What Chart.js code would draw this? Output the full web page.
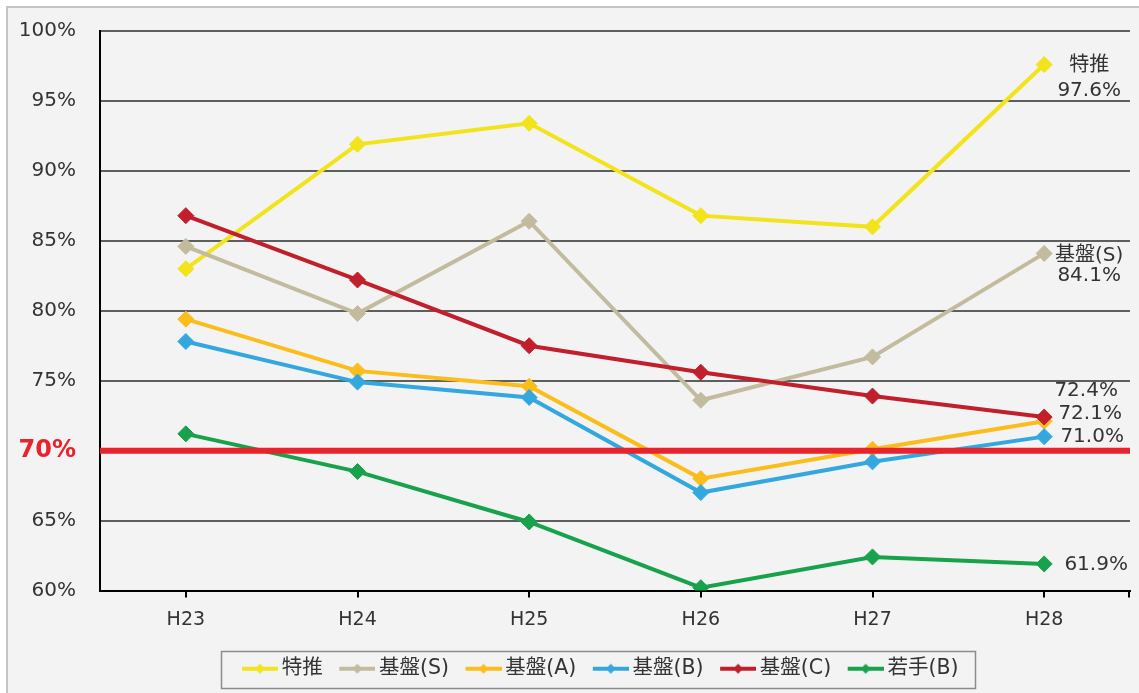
<!DOCTYPE html>
<html>
<head>
<meta charset="utf-8">
<script src="https://cdn.jsdelivr.net/npm/chart.js@4/dist/chart.umd.min.js"></script>
<style>
  html, body { margin: 0; padding: 0; background: #ffffff; }
  #wrap { width: 1139px; height: 693px; }
</style>
</head>
<body>
<div id="wrap"><canvas id="c" width="1139" height="693"></canvas></div>
<script>
// ---- data ----
const categories = ['H23', 'H24', 'H25', 'H26', 'H27', 'H28'];
const seriesNames = ['特推', '基盤(S)', '基盤(A)', '基盤(B)', '基盤(C)', '若手(B)'];
const tokusui = [83.0, 91.9, 93.4, 86.8, 86.0, 97.6];
const kibanS  = [84.6, 79.8, 86.4, 73.6, 76.7, 84.1];
const kibanA  = [79.4, 75.7, 74.6, 68.0, 70.1, 72.1];
const kibanB  = [77.8, 74.9, 73.8, 67.0, 69.2, 71.0];
const kibanC  = [86.8, 82.2, 77.5, 75.6, 73.9, 72.4];
const wakateB = [71.2, 68.5, 64.9, 60.2, 62.4, 61.9];
const yMin = 60, yMax = 100, yStep = 5;
const threshold = 70;
const endLabelShowsName = [true, true, false, false, false, false];

// ---- styles ----
const seriesData = [tokusui, kibanS, kibanA, kibanB, kibanC, wakateB];
const colors = ['#f2e31a', '#c3bb9d', '#fbbd1c', '#33a8df', '#c11f2b', '#18a24b'];
// end-label offsets relative to the last point: [dx, dy of first line, line gap]
const endLabelOffsets = [[45, 1, 25], [45, 2, 20], [46, -7, 0], [48, 0, 0], [42, -26, 0], [52, 1, 0]];
const legendCenterX = 595;
const FONT = "'DejaVu Sans', 'Noto Sans CJK JP', sans-serif";

function makeLegendIcon(color) {
  const c = document.createElement('canvas');
  c.width = 53; c.height = 14;
  const g = c.getContext('2d');
  g.strokeStyle = color; g.lineWidth = 4;
  g.beginPath(); g.moveTo(17, 7); g.lineTo(53, 7); g.stroke();
  g.fillStyle = color;
  g.beginPath(); g.moveTo(35, 2); g.lineTo(40, 7); g.lineTo(35, 12); g.lineTo(30, 7); g.closePath(); g.fill();
  return c;
}
const legendIcons = colors.map(makeLegendIcon);

const datasets = seriesNames.map((name, i) => ({
  label: name,
  data: seriesData[i],
  borderColor: colors[i],
  backgroundColor: colors[i],
  borderWidth: 4,
  pointStyle: 'rectRot',
  pointRadius: 8,
  pointBorderWidth: 1,
  pointBackgroundColor: colors[i],
  pointBorderColor: colors[i],
  tension: 0,
  order: seriesNames.length - i
}));

const decorPlugin = {
  id: 'decor',
  beforeDraw(chart) {
    const ctx = chart.ctx;
    ctx.save();
    ctx.fillStyle = '#ffffff';
    ctx.fillRect(0, 0, chart.width, chart.height);
    ctx.fillStyle = '#f3f3f3';
    ctx.fillRect(7, 7, chart.width, chart.height);
    ctx.strokeStyle = '#c4c4c4';
    ctx.lineWidth = 2;
    ctx.beginPath();
    ctx.moveTo(7, chart.height); ctx.lineTo(7, 7); ctx.lineTo(chart.width, 7);
    ctx.stroke();
    ctx.restore();
    // shift legend so that its items are centred like the reference
    const lg = chart.legend;
    if (lg && lg.legendHitBoxes && lg.legendHitBoxes.length && !lg._shifted) {
      let l = Infinity, r = -Infinity;
      lg.legendHitBoxes.forEach(h => { l = Math.min(l, h.left); r = Math.max(r, h.left + h.width); });
      const s = legendCenterX - (l + r) / 2;
      lg.left += s; lg.right += s;
      lg.legendHitBoxes.forEach(h => { h.left += s; });
      lg._shifted = true;
    }
  },
  afterDatasetsDraw(chart) {
    const ctx = chart.ctx;
    const ys = chart.scales.y;
    const area = chart.chartArea;
    ctx.save();
    // end labels
    ctx.font = '20px ' + FONT;
    ctx.fillStyle = '#333333';
    ctx.textAlign = 'center';
    ctx.textBaseline = 'middle';
    chart.data.datasets.forEach((ds, i) => {
      const meta = chart.getDatasetMeta(i);
      const last = meta.data[meta.data.length - 1];
      const val = ds.data[ds.data.length - 1];
      const [dx, dy, gap] = endLabelOffsets[i];
      const lines = endLabelShowsName[i] ? [ds.label, val.toFixed(1) + '%'] : [val.toFixed(1) + '%'];
      lines.forEach((t, k) => ctx.fillText(t, last.x + dx, last.y + dy + k * gap));
    });
    // threshold line
    const ty = ys.getPixelForValue(threshold);
    ctx.strokeStyle = '#e8232b';
    ctx.lineWidth = 6;
    ctx.beginPath();
    ctx.moveTo(area.left, ty); ctx.lineTo(area.right, ty);
    ctx.stroke();
    // right-end tick on category axis
    ctx.strokeStyle = '#000';
    ctx.lineWidth = 2;
    ctx.beginPath();
    ctx.moveTo(area.right - 1, area.bottom); ctx.lineTo(area.right - 1, area.bottom + 7);
    ctx.stroke();
    ctx.restore();
  },
  afterDraw(chart) {
    const boxes = chart.legend && chart.legend.legendHitBoxes;
    if (!boxes || !boxes.length) return;
    const ctx = chart.ctx;
    let l = Infinity, r = -Infinity, t = Infinity, b = -Infinity;
    boxes.forEach(h => {
      l = Math.min(l, h.left); r = Math.max(r, h.left + h.width);
      t = Math.min(t, h.top); b = Math.max(b, h.top + h.height);
    });
    ctx.save();
    ctx.strokeStyle = '#8c8c8c';
    ctx.lineWidth = 1.5;
    ctx.strokeRect(Math.round(l - 10.5) + 0.5, Math.round(t - 8) + 0.5, Math.round(r - l + 27.5), Math.round(b - t + 16));
    ctx.restore();
  }
};

new Chart(document.getElementById('c'), {
  type: 'line',
  data: { labels: categories, datasets },
  plugins: [decorPlugin],
  options: {
    responsive: false,
    animation: false,
    layout: { padding: { left: 12, right: 8, top: 31, bottom: 4 } },
    plugins: {
      tooltip: { enabled: false },
      legend: {
        position: 'bottom',
        align: 'center',
        labels: {
          usePointStyle: true,
          pointStyleWidth: 40,
          padding: 6,
          color: '#333333',
          font: { family: FONT, size: 20.5 },
          sort: (a, b) => a.datasetIndex - b.datasetIndex,
          generateLabels(chart) {
            const items = Chart.defaults.plugins.legend.labels.generateLabels(chart);
            items.forEach(it => { it.pointStyle = legendIcons[it.datasetIndex]; });
            return items;
          }
        }
      }
    },
    scales: {
      x: {
        offset: true,
        grid: { offset: false, drawOnChartArea: false, drawTicks: true, tickLength: 7, color: '#000', lineWidth: 2 },
        border: { color: '#000', width: 2 },
        ticks: { color: '#333333', font: { family: FONT, size: 19 }, padding: 11, maxRotation: 0 },
        afterFit(scale) { scale.height = 62; }
      },
      y: {
        min: yMin,
        max: yMax,
        ticks: {
          stepSize: yStep,
          padding: 4,
          callback: v => v + '%',
          color: ctx => ctx.tick && ctx.tick.value === threshold ? '#e8232b' : '#333333',
          font: ctx => ctx.tick && ctx.tick.value === threshold
            ? { family: FONT, size: 24, weight: 'bold' }
            : { family: FONT, size: 20 }
        },
        grid: { color: '#5e5e5e', lineWidth: 2, drawTicks: true, tickLength: 20, tickColor: 'rgba(0,0,0,0)' },
        border: { color: '#000', width: 2 },
        afterFit(scale) { scale.width = 88; }
      }
    }
  }
});
</script>
</body>
</html>
